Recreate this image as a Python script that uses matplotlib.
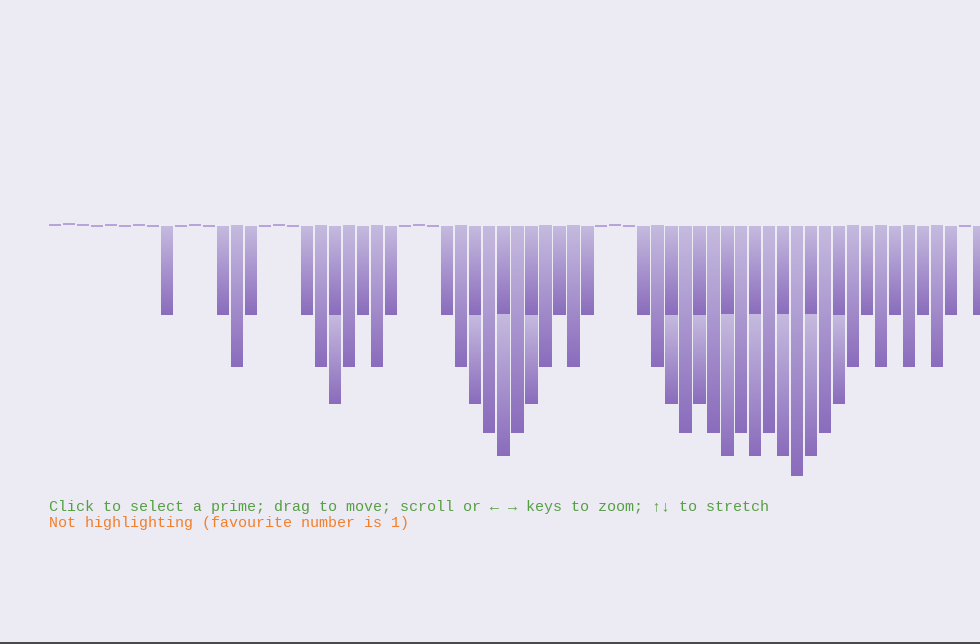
import numpy as np
import matplotlib
matplotlib.use("Agg")
import matplotlib.pyplot as plt
from matplotlib.colors import LinearSegmentedColormap
from matplotlib.lines import Line2D

# ---- data ----
# number represented by each column (1 = empty column, drawn as a dash)
numbers = [1, 1, 1, 1, 1, 1, 1, 1, 2, 1, 1, 1, 2, 3, 2, 1, 1, 1, 2, 3,
           4, 3, 2, 3, 2, 1, 1, 1, 2, 3, 4, 5, 6, 5, 4, 3, 2, 3, 2, 1,
           1, 1, 2, 3, 4, 5, 4, 5, 6, 5, 6, 5, 6, 7, 6, 5, 4, 3, 2, 3,
           2, 3, 2, 3, 2, 1, 2]
# tiny lift of the empty-column dashes (in log2 units)
dash_lift = [0.011, 0.019, 0.011, 0.0, 0.011, 0.0, 0.011, 0.0, 0.0, 0.011,
             0.0, 0.0, 0.011, 0.0, 0.0, 0.011, 0.0, 0.0, 0.011, 0.0, 0.0, 0.011]
line1 = "Click to select a prime; drag to move; scroll or \u2190 \u2192 keys to zoom; \u2191\u2193 to stretch"
line2 = "Not highlighting (favourite number is 1)"


def prime_factors(n):
    out, p = [], 2
    while n > 1:
        while n % p == 0:
            out.append(p)
            n //= p
        p += 1
    return out


BG = "#ECEAF3"
W, H = 980, 644
fig = plt.figure(figsize=(W / 100, H / 100), dpi=100, facecolor=BG)
ax = fig.add_axes([0, 0, 1, 1])
ax.set_facecolor(BG)
ax.axis("off")

cmap = LinearSegmentedColormap.from_list("seg", ["#c5badf", "#8a6cbc"])
grad = np.linspace(0, 1, 256).reshape(-1, 1)
bw = 12 / 14

k = 0
for i, n in enumerate(numbers):
    if n == 1:
        y = -dash_lift[k % len(dash_lift)]
        k += 1
        ax.plot([i - bw / 2, i + bw / 2], [y, y], color="#a78fd2", lw=1.1,
                solid_capstyle="butt")
        continue
    top = 0.0
    for p in prime_factors(n):
        h = np.log2(p)
        ax.imshow(grad, cmap=cmap, aspect="auto", interpolation="bilinear",
                  extent=[i - bw / 2, i + bw / 2, top + h, top])
        top += h

x0 = -55 / 14
ax.set_xlim(x0, x0 + W / 14)
ax.set_ylim((H - 226) / 89, -226 / 89)

fig.add_artist(Line2D([0, 1], [0.6 / H, 0.6 / H], transform=fig.transFigure,
                      color="#2a2a2a", lw=1.2))

fnt = dict(family=["Liberation Mono", "DejaVu Sans Mono"], fontsize=10.8)
fig.text(49 / W, 1 - 511.5 / H, line1, color="#56a044", va="baseline", **fnt)
fig.text(49 / W, 1 - 527.5 / H, line2, color="#f37f2b", va="baseline", **fnt)

fig.savefig("out.png", dpi=100, facecolor=BG)
